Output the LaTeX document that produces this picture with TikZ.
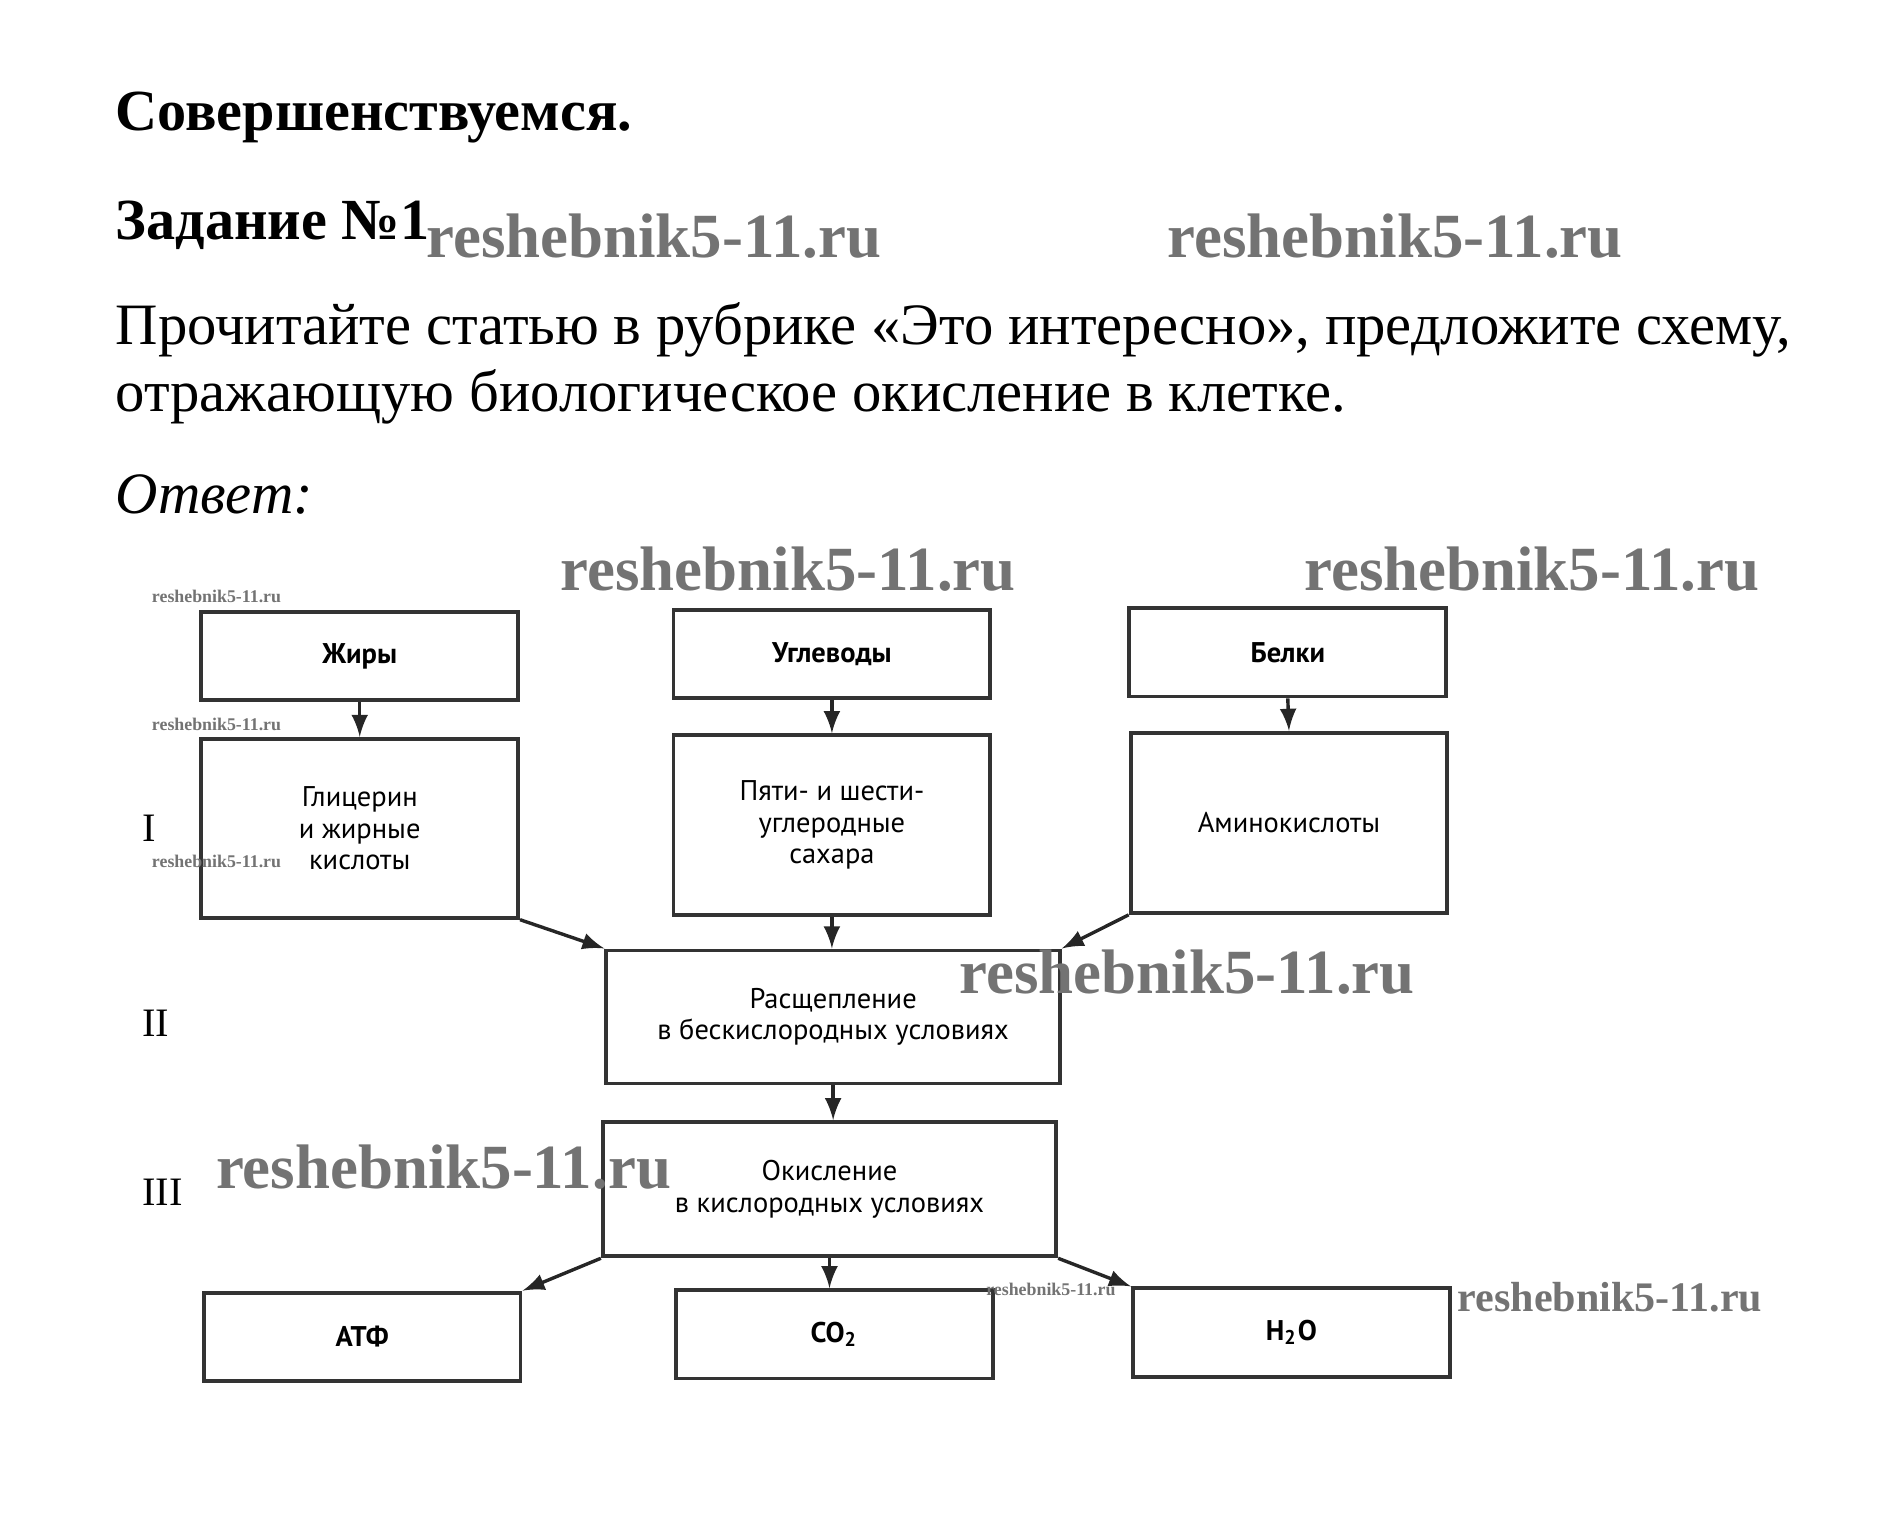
\documentclass[tikz,border=0pt]{standalone}
\usepackage{fontspec}
\setmainfont{Liberation Serif}
\newfontfamily\shemafont{PT Sans}
\tikzset{>=latex}
\tikzset{
    blok/.style={draw=black!80, line width=.9pt, minimum width=26.2mm, minimum height=7.3mm,
        inner sep=0pt, align=center, font=\shemafont\fontsize{6.7}{7.4}\selectfont},
    zhirn/.style={blok, font=\shemafont\bfseries\fontsize{6.7}{7.4}\selectfont},
    strelka/.style={->, draw=black!85, line width=.8pt},
    tekst/.style={anchor=base west, inner sep=0pt, font=\fontsize{13.8}{16.5}\selectfont},
    rim/.style={anchor=west, inner sep=0pt, font=\fontsize{9.5}{11}\selectfont},
    znak/.style={anchor=base west, inner sep=0pt, text=black!55, font=\bfseries\fontsize{14.8}{16}\selectfont},
    znakm/.style={znak, font=\bfseries\fontsize{9.9}{11}\selectfont},
    znaks/.style={znak, font=\bfseries\fontsize{4.2}{5}\selectfont}
}
\begin{document}
\begin{tikzpicture}[x=.1mm, y=-.1mm]
    \useasboundingbox (0, 0) rectangle (1568, 1259.5);
    % \fill[white](0, 0)rectangle(1568, 1259.5);
    \node[tekst, font=\bfseries\fontsize{13.7}{16.5}\selectfont] (sovershen) at (95, 108) {Совершенствуемся.};
    \node[tekst, font=\bfseries\fontsize{13.7}{16.5}\selectfont] (zadanie) at (95, 198) {Задание №1};
    \node[tekst] (vopros1) at (95, 285) {Прочитайте статью в рубрике «Это интересно», предложите схему,};
    \node[tekst] (vopros2) at (95, 340) {отражающую биологическое окисление в клетке.};
    \node[tekst, font=\itshape\fontsize{13.8}{16.5}\selectfont] (otvet) at (95, 425) {Ответ:};

    \node[rim] (r1) at (117, 685) {I};
    \node[rim] (r2) at (117, 846) {II};
    \node[rim] (r3) at (117, 986) {III};

    \node[zhirn] (zhiry) at (297.5, 542.5) {Жиры};
    \node[zhirn] (uglevody) at (688, 541) {Углеводы};
    \node[zhirn] (belki) at (1065, 539.5) {Белки};
    \node[blok, minimum height=14.8mm] (glicerin) at (297.5, 685) {Глицерин\\и жирные\\кислоты};
    \node[blok, minimum height=14.9mm] (sahara) at (688, 682.5) {Пяти- и шести-\\углеродные\\сахара};
    \node[blok, minimum height=14.9mm] (amino) at (1066, 680.5) {Аминокислоты};
    \node[blok, minimum width=37.5mm, minimum height=11mm] (rasshep) at (689, 841) {Расщепление\\в бескислородных условиях};
    \node[blok, minimum width=37.5mm, minimum height=11.1mm] (okislen) at (686, 983.5) {Окисление\\в кислородных условиях};
    \node[zhirn] (atf) at (299.5, 1105.5) {АТФ};
    \node[zhirn] (co2) at (690, 1103.5) {CO\textsubscript{2}};
    \node[zhirn] (hho) at (1068, 1102) {H\textsubscript{2}O};

    \draw[strelka] (zhiry) -- (glicerin);
    \draw[strelka] (uglevody) -- (sahara);
    \draw[strelka] (belki.south) -- (amino.north);
    \draw[strelka] (glicerin.south east) -- (rasshep.north west);
    \draw[strelka] (sahara.south) -- (sahara.south |- rasshep.north);
    \draw[strelka] (amino.south west) -- (rasshep.north east);
    \draw[strelka] (rasshep.south) -- (rasshep.south |- okislen.north);
    \draw[strelka] (okislen.south west) -- (atf.north east);
    \draw[strelka] (okislen.south) -- (okislen.south |- co2.north);
    \draw[strelka] (okislen.south east) -- (hho.north west);

    % reshebnik5-11.ru
    \node[znak] (z1) at (352, 213) {reshebnik5-11.ru};
    \node[znak] (z2) at (965, 213) {reshebnik5-11.ru};
    \node[znak] (z3) at (463, 488) {reshebnik5-11.ru};
    \node[znak] (z4) at (1078, 488) {reshebnik5-11.ru};
    \node[znak] (z5) at (793, 822) {reshebnik5-11.ru};
    \node[znak] (z6) at (178, 983) {reshebnik5-11.ru};
    \node[znakm] (z7) at (1205, 1085) {reshebnik5-11.ru};
    \node[znaks] (z8) at (125, 498) {reshebnik5-11.ru};
    \node[znaks] (z9) at (125, 604) {reshebnik5-11.ru};
    \node[znaks] (z10) at (125, 717) {reshebnik5-11.ru};
    \node[znaks] (z11) at (815, 1071) {reshebnik5-11.ru};
\end{tikzpicture}
\end{document}
